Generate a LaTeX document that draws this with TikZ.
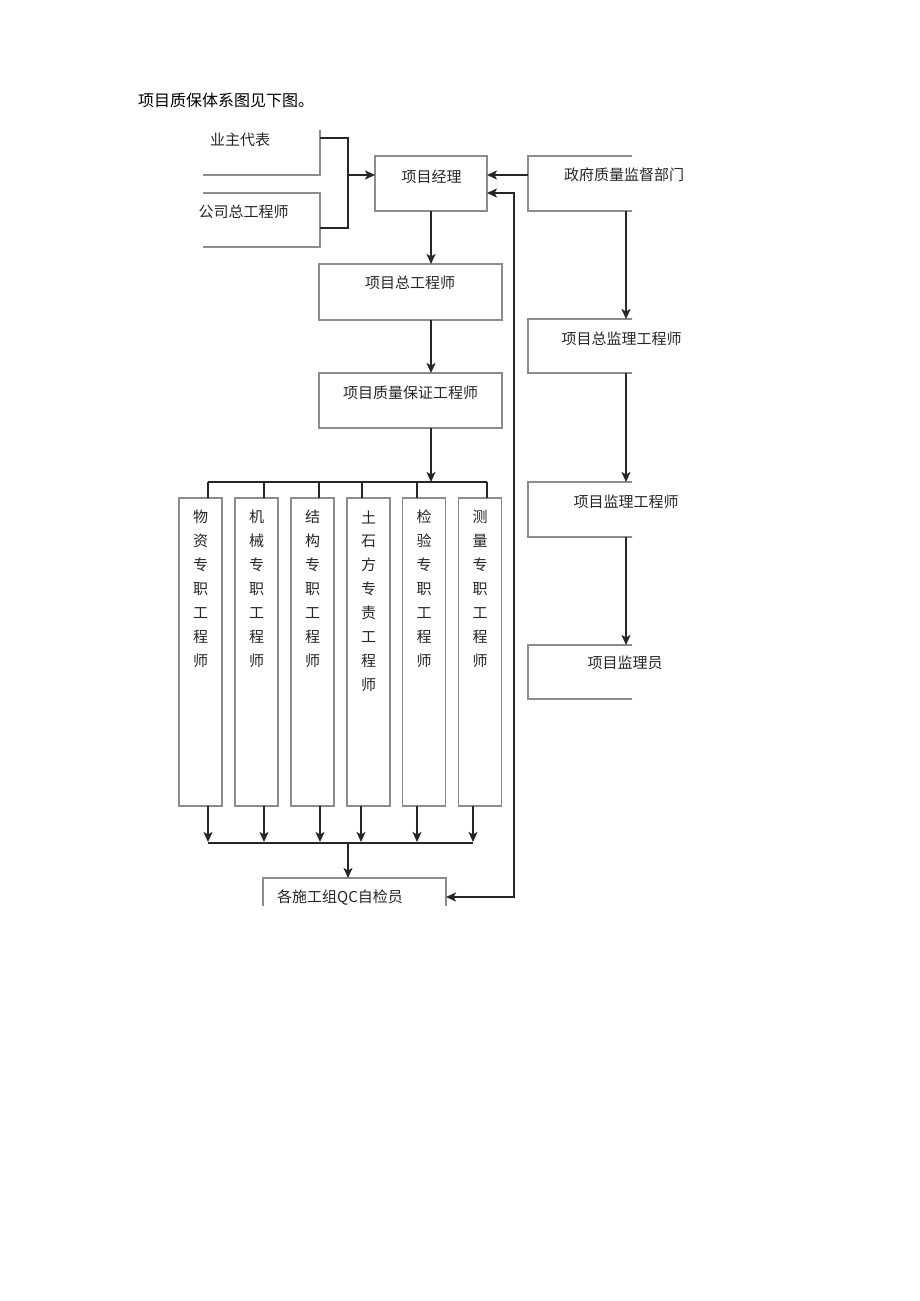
\documentclass[tikz,border=0pt]{standalone}
\usepackage{fontspec}
\setmainfont{Liberation Sans}
\newfontfamily\cjk{Noto Sans CJK SC}
\usetikzlibrary{arrows.meta}
\definecolor{boxgray}{HTML}{8C8C8C}
\definecolor{linegray}{HTML}{262626}
\definecolor{txtgray}{HTML}{262626}
\begin{document}
\begin{tikzpicture}[x=1pt,y=-1pt,
  box/.style={draw=boxgray,line width=1.3pt,inner sep=0pt,outer sep=0pt},
  conn/.style={draw=linegray,line width=1.7pt},
  tip/.tip={Stealth[length=10pt,width=9pt,inset=2.5pt]},
  arr/.style={conn,-tip},
  darr/.style={conn,tip-tip},
  lbl/.style={font=\cjk\fontsize{15}{18}\selectfont,text=txtgray,inner sep=0pt},
  ttl/.style={font=\cjk\fontsize{16}{19}\selectfont,text=black,inner sep=0pt}]
\fill[white] (0,0) rectangle (920,1301);
\useasboundingbox (0,0) rectangle (920,1301);

% boxes cut on the left
\begin{scope}
\clip (203,130) rectangle (400,300);
\node[box,minimum width=140pt,minimum height=75pt] (yz) at (250,137.5) {};
\node[box,minimum width=140pt,minimum height=54pt] (gs) at (250,220) {};
\end{scope}
% boxes cut on the right
\begin{scope}
\clip (500,100) rectangle (632,800);
\node[box,minimum width=192pt,minimum height=55pt] (gov) at (624,183.5) {};
\node[box,minimum width=192pt,minimum height=54pt] (zj) at (624,346) {};
\node[box,minimum width=192pt,minimum height=55pt] (jl) at (624,509.5) {};
\node[box,minimum width=192pt,minimum height=54pt] (jly) at (624,672) {};
\end{scope}
% box cut at the bottom
\begin{scope}
\clip (200,860) rectangle (500,905);
\node[box,minimum width=183pt,minimum height=62pt] (qc) at (354.5,909) {};
\end{scope}
% whole boxes
\node[box,minimum width=112pt,minimum height=55pt] (pm) at (431,183.5) {};
\node[box,minimum width=183pt,minimum height=56pt] (zgc) at (410.5,292) {};
\node[box,minimum width=183pt,minimum height=55pt] (zbg) at (410.5,400.5) {};
\foreach \n/\cx in {b1/200.5,b2/256.5,b3/312.5,b4/368.5,b5/424,b6/480}
  \node[box,minimum width=43pt,minimum height=308pt] (\n) at (\cx,652) {};

% texts
\node[ttl,anchor=west] (title) at (138,100) {项目质保体系图见下图。};
\node[lbl] (tyz) at (240,140) {业主代表};
\node[lbl] (tgs) at (243.5,212) {公司总工程师};
\node[lbl] (tpm) at (431.5,177) {项目经理};
\node[lbl] (tgov) at (624,175) {政府质量监督部门};
\node[lbl] (tzgc) at (410,283) {项目总工程师};
\node[lbl] (tzbg) at (410.5,393) {项目质量保证工程师};
\node[lbl] (tzj) at (621.5,339) {项目总监理工程师};
\node[lbl] (tjl) at (626,502) {项目监理工程师};
\node[lbl] (tjly) at (625,663) {项目监理员};
\node[lbl] (tqc) at (340,898) {各施工组QC自检员};
\foreach \cx/\txt [count=\k] in {200.5/{物,资,专,职,工,程,师},256.5/{机,械,专,职,工,程,师},312.5/{结,构,专,职,工,程,师},368.5/{土,石,方,专,责,工,程,师},424/{检,验,专,职,工,程,师},480/{测,量,专,职,工,程,师}}
  \foreach \c [count=\i] in \txt
    \node[lbl] (v\k c\i) at (\cx,{517+24*(\i-1)}) {\c};

% connectors
\coordinate (jl1) at (348,175);
\draw[conn] (yz.east |- 0,138) -- (348,138) -- (348,228) -- (gs.east |- 0,228);
\draw[arr] (jl1) -- (pm.west |- jl1);
\draw[arr] (gov.west |- 0,175) -- (pm.east |- 0,175);
\draw[darr] (pm.east |- 0,193) -- (514,193) -- (514,897) -- (qc.east |- 0,897);
\draw[arr] (pm.south) -- (pm.south |- zgc.north);
\draw[arr] (pm.south |- zgc.south) -- (pm.south |- zbg.north);
\coordinate (busT) at (431,482);
\draw[arr] (pm.south |- zbg.south) -- (busT);
\draw[conn] (208,482) -- (487,482);
\foreach \n/\x in {b1/208,b2/264,b3/319,b4/362,b5/417,b6/487}
  \draw[conn] (\x,482) -- (\x,0 |- \n.north);
\foreach \n/\x in {b1/208,b2/264,b3/320,b4/361,b5/417,b6/473}
  \draw[arr] (\x,0 |- \n.south) -- (\x,842);
\draw[conn] (208,843) -- (473,843);
\coordinate (busB) at (348,843);
\draw[arr] (busB) -- (busB |- qc.north);
\draw[arr] (626,0 |- gov.south) -- (626,0 |- zj.north);
\draw[arr] (626,0 |- zj.south) -- (626,0 |- jl.north);
\draw[arr] (626,0 |- jl.south) -- (626,0 |- jly.north);
\end{tikzpicture}
\end{document}
